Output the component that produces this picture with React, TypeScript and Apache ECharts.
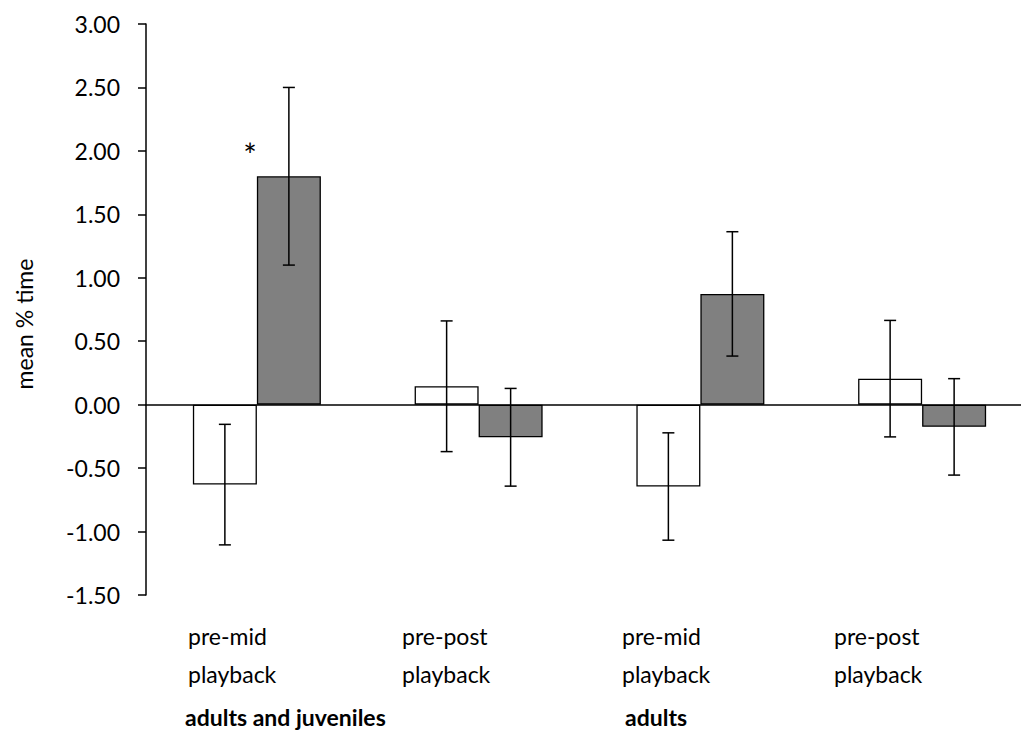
import React, { useEffect, useRef } from "react";
import * as echarts from "echarts";

const categories = ["pre-mid playback (adults and juveniles)", "pre-post playback (adults and juveniles)", "pre-mid playback (adults)", "pre-post playback (adults)"];
const whiteValues = [-0.63, 0.145, -0.645, 0.205];
const whiteErrors = [0.475, 0.515, 0.423, 0.459];
const grayValues = [1.8, -0.257, 0.873, -0.175];
const grayErrors = [0.7, 0.385, 0.49, 0.38];
const yTicks = { min: -1.5, max: 3.0, interval: 0.5 };
const categoryLabels = [
  { lines: ["pre-mid", "playback"], x: 188 },
  { lines: ["pre-post", "playback"], x: 402 },
  { lines: ["pre-mid", "playback"], x: 622 },
  { lines: ["pre-post", "playback"], x: 834 },
];
const groupLabels = [
  { text: "adults and juveniles", x: 185 },
  { text: "adults", x: 625 },
];
const yAxisTitle = "mean % time";
const significance = "*";

const FONT = "Lato, 'Open Sans', sans-serif";
const FS = 23;

export default function App() {
  const ref = useRef<HTMLDivElement>(null);
  useEffect(() => {
    if (!ref.current) return;
    const chart = echarts.init(ref.current, null, { renderer: "svg" });
    const barW = 64;
    const errData: any[] = [];
    whiteValues.forEach((v, i) => errData.push([i, v - whiteErrors[i], v + whiteErrors[i], 0]));
    grayValues.forEach((v, i) => errData.push([i, v - grayErrors[i], v + grayErrors[i], 1]));

    const graphics: any[] = [];
    categoryLabels.forEach((c) => {
      graphics.push({ type: "text", x: c.x, y: 636, style: { text: c.lines[0], font: `${FS}px ${FONT}`, fill: "#000", align: "left", verticalAlign: "middle" } });
      graphics.push({ type: "text", x: c.x, y: 674, style: { text: c.lines[1], font: `${FS}px ${FONT}`, fill: "#000", align: "left", verticalAlign: "middle" } });
    });
    groupLabels.forEach((g) => {
      graphics.push({ type: "text", x: g.x, y: 717, style: { text: g.text, font: `bold ${FS}px ${FONT}`, fill: "#000", align: "left", verticalAlign: "middle" } });
    });
    graphics.push({ type: "text", x: 24, y: 324, rotation: Math.PI / 2, style: { text: yAxisTitle, font: `${FS}px ${FONT}`, fill: "#000", align: "center", verticalAlign: "middle" } });
    graphics.push({ type: "text", x: 250, y: 154, style: { text: significance, font: `32px ${FONT}`, fill: "#000", align: "center", verticalAlign: "middle" } });

    chart.setOption({
      animation: false,
      backgroundColor: "#fff",
      grid: { left: 146, top: 24, width: 887, height: 571, containLabel: false, outerBoundsMode: "none" },
      xAxis: {
        type: "category",
        data: categories,
        axisLine: { onZero: true, lineStyle: { color: "#000", width: 1.5 } },
        axisTick: { show: false },
        axisLabel: { show: false },
        splitLine: { show: false },
      },
      yAxis: {
        type: "value",
        min: yTicks.min,
        max: yTicks.max,
        interval: yTicks.interval,
        axisLine: { show: true, lineStyle: { color: "#000", width: 1.5 } },
        axisTick: { show: true, length: 8, lineStyle: { color: "#000", width: 1.5 } },
        axisLabel: { formatter: (v: number) => v.toFixed(2), fontFamily: FONT, fontSize: FS, color: "#000", margin: 26 },
        splitLine: { show: false },
      },
      series: [
        {
          type: "bar",
          data: whiteValues,
          barWidth: barW,
          barGap: "0%",
          itemStyle: { color: "#ffffff", borderColor: "#000", borderWidth: 1.3 },
        },
        {
          type: "bar",
          data: grayValues,
          barWidth: barW,
          barGap: "0%",
          itemStyle: { color: "#808080", borderColor: "#000", borderWidth: 1.3 },
        },
        {
          type: "custom",
          data: errData,
          z: 10,
          renderItem: (params: any, api: any) => {
            const idx = api.value(0);
            const lo = api.coord([idx, api.value(1)]);
            const hi = api.coord([idx, api.value(2)]);
            const s = api.value(3);
            const x = lo[0] + (s === 0 ? -barW / 2 : barW / 2);
            const cap = 6;
            const st = { stroke: "#000", lineWidth: 1.5 };
            return {
              type: "group",
              children: [
                { type: "line", shape: { x1: x, y1: lo[1], x2: x, y2: hi[1] }, style: st },
                { type: "line", shape: { x1: x - cap, y1: lo[1], x2: x + cap, y2: lo[1] }, style: st },
                { type: "line", shape: { x1: x - cap, y1: hi[1], x2: x + cap, y2: hi[1] }, style: st },
              ],
            };
          },
        },
      ],
      graphic: graphics,
    });
    return () => chart.dispose();
  }, []);
  return <div ref={ref} style={{ position: "fixed", left: 0, top: 0, width: 1021, height: 733 }} />;
}
